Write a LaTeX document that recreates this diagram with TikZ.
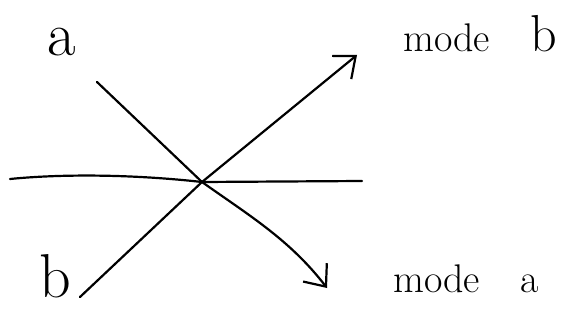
\documentclass[tikz,border=0pt]{standalone}
\usepackage{tikz}
\usetikzlibrary{arrows.meta}

\begin{document}
\begin{tikzpicture}[x=1pt, y=-1pt, >={Straight Barb[length=18pt, width=30pt]},
    stroke/.style={line width=2.2pt, line cap=round, line join=round},
    biglabel/.style={font=\fontsize{62}{62}\selectfont, inner sep=0pt},
    modelabel/.style={font=\fontsize{40}{40}\selectfont, inner sep=0pt, anchor=base west}]
  \useasboundingbox (0,0) rectangle (568,321);

  % labels
  \node[biglabel] (a) at (62,42) {a};
  \node[biglabel] (b) at (55,276) {b};
  \node[modelabel] (modeb) at (403,52) {mode\quad{\fontsize{52}{52}\selectfont b}};
  \node[modelabel] (modea) at (393,292) {mode\quad a};

  % ends of the strokes
  \coordinate (cross) at (202,182);
  \coordinate (astart) at (97,82);
  \coordinate (aend) at (327,288);
  \coordinate (bstart) at (80,297);
  \coordinate (bend) at (357,55);
  \coordinate (hleft) at (10,179);
  \coordinate (hright) at (362,181);

  % horizontal stroke
  \draw[stroke] (hleft) .. controls (60,174) and (130,174) .. (cross) -- (hright);

  % a goes to mode a
  \draw[stroke, ->] (astart) -- (cross) .. controls (250,216) and (290,240) .. (aend);

  % b goes to mode b
  \draw[stroke, ->] (bstart) -- (cross) -- (bend);

\end{tikzpicture}
\end{document}
